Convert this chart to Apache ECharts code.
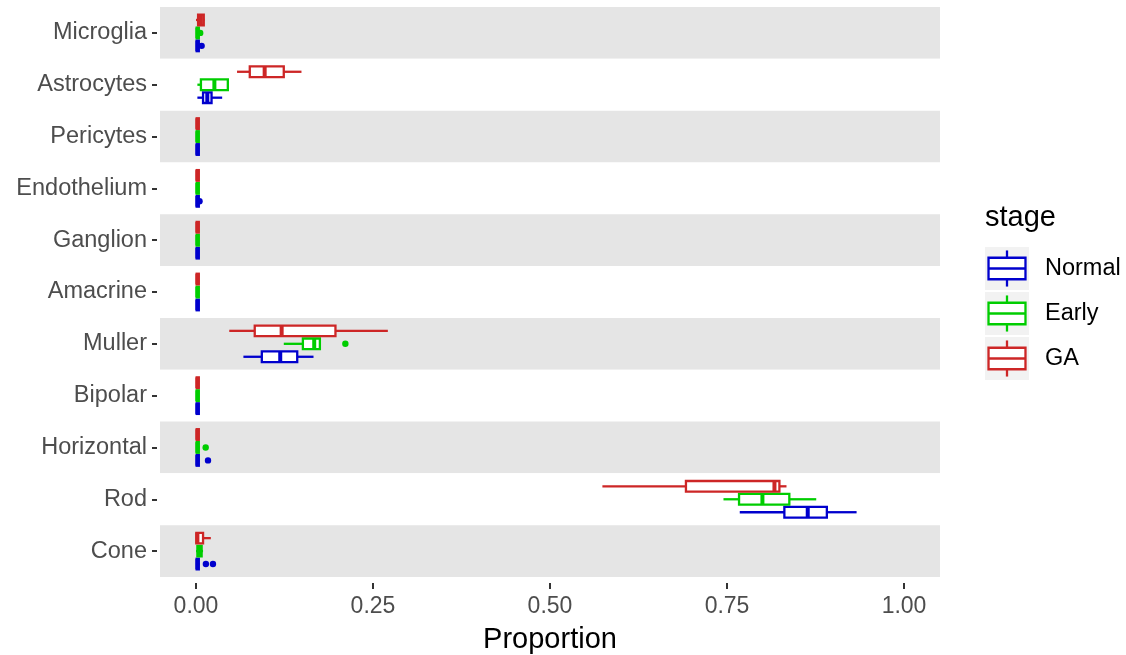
<!DOCTYPE html>
<html lang="en">
<head>
<meta charset="UTF-8" />
<title>Cell type proportion by stage</title>
<script src="https://cdn.jsdelivr.net/npm/echarts@6/dist/echarts.min.js"></script>
</head>
<body style="margin:0">
<div id="main" style="width:1126px;height:655px"></div>
<script>
// cell types, top to bottom
const categories = ["Microglia", "Astrocytes", "Pericytes", "Endothelium", "Ganglion",
  "Amacrine", "Muller", "Bipolar", "Horizontal", "Rod", "Cone"];
const stages = ["Normal", "Early", "GA"];
const stageColors = ["#0000CD", "#00CD00", "#CD2626"];
const xTicks = [0, 0.25, 0.5, 0.75, 1];

// [lower whisker, Q1, median, Q3, upper whisker], one row per cell type
const normalBox = [
  [0, 0.001, 0.002, 0.004, 0.005],
  [0.002, 0.010, 0.016, 0.022, 0.037],
  [0, 0.001, 0.002, 0.004, 0.004],
  [0, 0.001, 0.002, 0.004, 0.004],
  [0, 0.001, 0.002, 0.004, 0.004],
  [0, 0.001, 0.002, 0.004, 0.004],
  [0.067, 0.093, 0.119, 0.143, 0.166],
  [0, 0.001, 0.002, 0.004, 0.004],
  [0, 0.001, 0.002, 0.004, 0.005],
  [0.768, 0.831, 0.864, 0.891, 0.933],
  [0, 0.001, 0.002, 0.004, 0.005]
];
const earlyBox = [
  [0, 0.001, 0.002, 0.004, 0.004],
  [0.002, 0.007, 0.026, 0.045, 0.045],
  [0, 0.001, 0.002, 0.004, 0.004],
  [0, 0.001, 0.002, 0.004, 0.004],
  [0, 0.001, 0.002, 0.004, 0.004],
  [0, 0.001, 0.002, 0.004, 0.004],
  [0.124, 0.151, 0.167, 0.175, 0.175],
  [0, 0.001, 0.002, 0.004, 0.004],
  [0, 0.001, 0.002, 0.004, 0.005],
  [0.745, 0.767, 0.800, 0.838, 0.876],
  [0, 0.002, 0.005, 0.008, 0.010]
];
const gaBox = [
  [0, 0.003, 0.007, 0.011, 0.012],
  [0.058, 0.076, 0.097, 0.124, 0.149],
  [0, 0.001, 0.002, 0.004, 0.004],
  [0, 0.001, 0.002, 0.004, 0.004],
  [0, 0.001, 0.002, 0.004, 0.004],
  [0, 0.001, 0.002, 0.004, 0.004],
  [0.047, 0.083, 0.121, 0.197, 0.271],
  [0, 0.001, 0.002, 0.004, 0.004],
  [0, 0.001, 0.002, 0.004, 0.004],
  [0.574, 0.692, 0.817, 0.824, 0.834],
  [0, 0.0005, 0.002, 0.010, 0.021]
];

// outliers: [cell type index, value]
const normalOut = [[0, 0.008], [3, 0.005], [8, 0.017], [10, 0.014], [10, 0.024]];
const earlyOut = [[0, 0.006], [6, 0.211], [8, 0.0137]];
const gaOut = [];

const boxes = [normalBox, earlyBox, gaBox];
const outs = [normalOut, earlyOut, gaOut];
// dodge: GA on top, Early in the middle, Normal at the bottom
const dodge = [0.25, 0, -0.25];

const font = "'Liberation Sans', Arial, Helvetica, sans-serif";

function boxRender(offset, color) {
  return function (params, api) {
    const cat = api.value(0);
    const band = api.size([0, 1])[1];
    const yc = api.coord([0, cat])[1] + offset * band;
    const h = band * 0.205;
    const px = i => api.coord([api.value(i), cat])[0];
    const lo = px(1), q1 = px(2), md = px(3), q3 = px(4), hi = px(5);
    const st = { stroke: color, lineWidth: 2.3 };
    return {
      type: "group",
      children: [
        { type: "line", shape: { x1: lo, y1: yc, x2: q1, y2: yc }, style: st },
        { type: "line", shape: { x1: q3, y1: yc, x2: hi, y2: yc }, style: st },
        { type: "rect", shape: { x: q1, y: yc - h / 2, width: q3 - q1, height: h },
          style: { fill: "#ffffff", stroke: color, lineWidth: 2.3 } },
        { type: "line", shape: { x1: md, y1: yc - h / 2, x2: md, y2: yc + h / 2 },
          style: { stroke: color, lineWidth: 4 } }
      ]
    };
  };
}

function outRender(offset, color) {
  return function (params, api) {
    const cat = api.value(0);
    const band = api.size([0, 1])[1];
    const p = api.coord([api.value(1), cat]);
    return { type: "circle", shape: { cx: p[0], cy: p[1] + offset * band, r: 3.2 },
      style: { fill: color } };
  };
}

let series = [];
stages.forEach((s, k) => {
  series.push({
    name: s, type: "custom", renderItem: boxRender(dodge[k], stageColors[k]),
    encode: { x: [1, 2, 3, 4, 5], y: 0 },
    data: boxes[k].map((b, i) => [i].concat(b))
  });
  series.push({
    name: s, type: "custom", renderItem: outRender(dodge[k], stageColors[k]),
    encode: { x: 1, y: 0 },
    data: outs[k]
  });
});

// legend drawn by hand so the keys look like boxplot glyphs
let legendEls = [{
  type: "text", left: 985, top: 203,
  style: { text: "stage", font: "29px " + font, fill: "#000" }
}];
stages.forEach((s, k) => {
  const x = 985, y = 247 + k * 45, w = 44, hh = 43, c = stageColors[k];
  const st = { stroke: c, lineWidth: 2.3, fill: null };
  legendEls.push(
    { type: "rect", shape: { x: x, y: y, width: w, height: hh }, style: { fill: "#f2f2f2" } },
    { type: "line", shape: { x1: x + w / 2, y1: y + hh * 0.08, x2: x + w / 2, y2: y + hh * 0.25 }, style: st },
    { type: "line", shape: { x1: x + w / 2, y1: y + hh * 0.75, x2: x + w / 2, y2: y + hh * 0.92 }, style: st },
    { type: "rect", shape: { x: x + w * 0.08, y: y + hh * 0.25, width: w * 0.84, height: hh * 0.5 },
      style: { fill: "#ffffff", stroke: c, lineWidth: 2.3 } },
    { type: "line", shape: { x1: x + w * 0.08, y1: y + hh / 2, x2: x + w * 0.92, y2: y + hh / 2 }, style: st },
    { type: "text", left: 1045, top: y + hh / 2 - 12,
      style: { text: s, font: "23.5px " + font, fill: "#000" } }
  );
});

let options = {
  animation: false,
  backgroundColor: "#ffffff",
  textStyle: { fontFamily: font },
  grid: { left: 160, right: 186, top: 7, bottom: 78, outerBoundsMode: "none" },
  xAxis: {
    type: "value", min: -0.0508, max: 1.0508, offset: 6,
    name: "Proportion", nameLocation: "middle", nameGap: 42,
    nameTextStyle: { fontSize: 29, color: "#000", fontFamily: font },
    axisLine: { show: false, onZero: false },
    axisTick: { show: true, length: 6, customValues: xTicks, lineStyle: { color: "#333333", width: 2 } },
    axisLabel: { customValues: xTicks, formatter: v => v.toFixed(2), fontSize: 23,
      color: "#4d4d4d", margin: 12, fontFamily: font },
    splitLine: { show: false }
  },
  yAxis: {
    type: "category", data: categories, inverse: true, offset: 3,
    axisLine: { show: false, onZero: false },
    axisTick: { show: true, alignWithLabel: true, length: 5, lineStyle: { color: "#333333", width: 2 } },
    axisLabel: { fontSize: 23.5, color: "#4d4d4d", margin: 10, padding: [4, 0, 0, 0], fontFamily: font },
    splitLine: { show: false },
    splitArea: { show: true, areaStyle: { color: ["#e5e5e5", "#ffffff"] } }
  },
  graphic: legendEls,
  series: series
};

let myChart = echarts.init(document.getElementById("main"));
myChart.setOption(options);
</script>
</body>
</html>
